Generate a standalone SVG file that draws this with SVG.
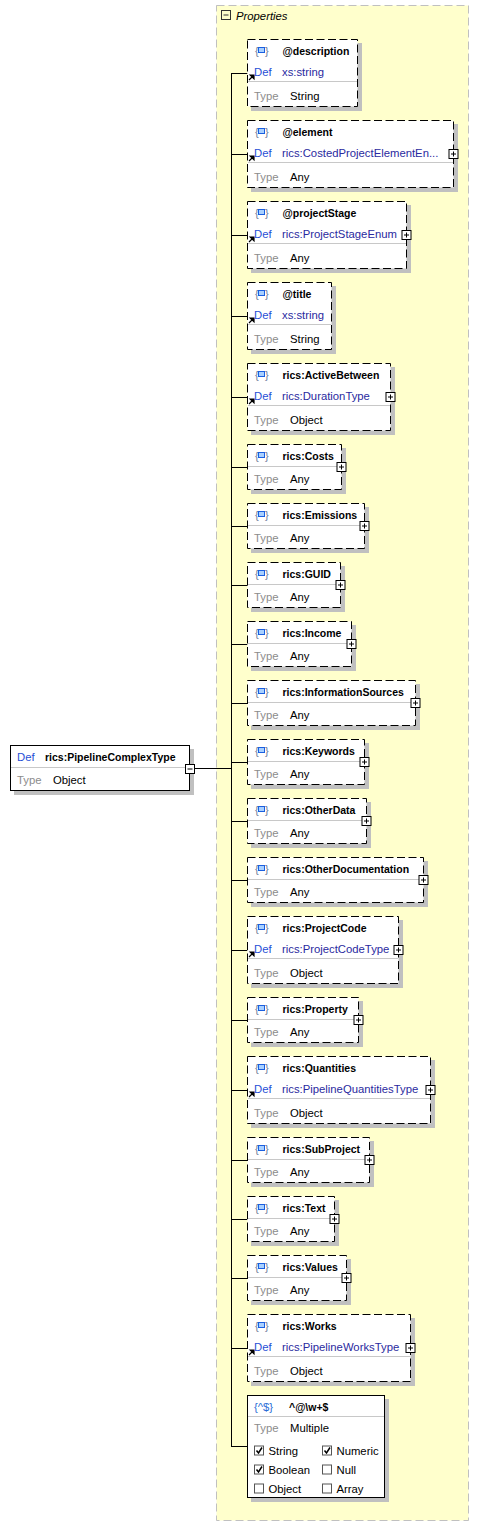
<svg xmlns="http://www.w3.org/2000/svg" width="479" height="1526" viewBox="0 0 479 1526">
<defs>
<style>
text{font-family:"Liberation Sans",Arial,sans-serif;font-size:11.3px;fill:#000}
.nm{font-weight:bold;font-size:10.5px}
.def{fill:#1f4fd6}
.dv{fill:#2a2aa0}
.tl{fill:#8c8c8c}
.br{fill:#6a7a9a;font-size:11px}
.sh{fill:#c0c0c0}
.box{fill:#fff;stroke:#000;stroke-width:1;stroke-dasharray:8 3.5}
.solid{fill:#fff;stroke:#000;stroke-width:1}
.sep{stroke:#c8c8c8;stroke-width:1}
.sq{fill:#a8d0ff;stroke:#1a5fe0;stroke-width:1}
.pb{fill:#fff;stroke:#000;stroke-width:1}
.pl{stroke:#000;stroke-width:1}
.cn{stroke:#000;stroke-width:1;fill:none}
.cb{fill:#fff;stroke:#555;stroke-width:1}
.ck{fill:none;stroke:#000;stroke-width:1.5}
</style>
<g id="icon">
<text class="br" x="8" y="16">{</text>
<text class="br" x="18" y="16">}</text>
<rect class="sq" x="11.5" y="8.5" width="6" height="5"/>
</g>
<path id="ref" d="M2,41 L5,38 M3.2,36 L7,36 L7,39.8 Z" stroke="#000" stroke-width="1.2" fill="#000"/>
</defs>

<rect x="216.5" y="5.5" width="252" height="1515" fill="#ffffcc" stroke="#c0c0c0" stroke-dasharray="8 4"/>
<g id="properties-header">
<rect x="221.5" y="10.5" width="9" height="9" fill="none" stroke="#333"/>
<line x1="223.5" y1="15" x2="228.5" y2="15" stroke="#333"/>
<text x="236" y="20" font-style="italic" fill="#3c3c50">Properties</text>
</g>

<g id="connectors">
<line class="cn" x1="194.5" y1="768.5" x2="231.5" y2="768.5"/>
<line class="cn" x1="231.5" y1="73" x2="231.5" y2="1446.5"/>
<line class="cn" x1="231" y1="73.5" x2="247.5" y2="73.5"/>
<line class="cn" x1="231" y1="154.5" x2="247.5" y2="154.5"/>
<line class="cn" x1="231" y1="235.5" x2="247.5" y2="235.5"/>
<line class="cn" x1="231" y1="316.5" x2="247.5" y2="316.5"/>
<line class="cn" x1="231" y1="397.5" x2="247.5" y2="397.5"/>
<line class="cn" x1="231" y1="467.5" x2="247.5" y2="467.5"/>
<line class="cn" x1="231" y1="526.5" x2="247.5" y2="526.5"/>
<line class="cn" x1="231" y1="585.5" x2="247.5" y2="585.5"/>
<line class="cn" x1="231" y1="644.5" x2="247.5" y2="644.5"/>
<line class="cn" x1="231" y1="703.5" x2="247.5" y2="703.5"/>
<line class="cn" x1="231" y1="762.5" x2="247.5" y2="762.5"/>
<line class="cn" x1="231" y1="821.5" x2="247.5" y2="821.5"/>
<line class="cn" x1="231" y1="880.5" x2="247.5" y2="880.5"/>
<line class="cn" x1="231" y1="950.5" x2="247.5" y2="950.5"/>
<line class="cn" x1="231" y1="1020.5" x2="247.5" y2="1020.5"/>
<line class="cn" x1="231" y1="1090.5" x2="247.5" y2="1090.5"/>
<line class="cn" x1="231" y1="1160.5" x2="247.5" y2="1160.5"/>
<line class="cn" x1="231" y1="1219.5" x2="247.5" y2="1219.5"/>
<line class="cn" x1="231" y1="1278.5" x2="247.5" y2="1278.5"/>
<line class="cn" x1="231" y1="1348.5" x2="247.5" y2="1348.5"/>
<line class="cn" x1="231" y1="1446.5" x2="247.5" y2="1446.5"/>
</g>

<g id="root">
<rect class="sh" x="14" y="749" width="180" height="46"/>
<rect class="solid" x="10.5" y="745.5" width="179" height="45"/>
<line class="sep" x1="11" y1="767.5" x2="189" y2="767.5"/>
<text class="def" x="17" y="761">Def</text>
<text class="nm" x="45" y="761">rics:PipelineComplexType</text>
<text class="tl" x="17" y="784">Type</text>
<text x="53" y="784">Object</text>
<rect class="pb" x="185.5" y="764.5" width="9" height="9"/>
<line class="pl" x1="187.5" y1="769" x2="192.5" y2="769"/>
</g>

<g id="n-description" transform="translate(247,39)">
<rect class="sh" x="4" y="4" width="111" height="68"/>
<rect class="box" x="0.5" y="0.5" width="110" height="67"/>
<use href="#icon"/><text class="nm" x="35.5" y="16">@description</text>
<use href="#ref"/><text class="def" x="7" y="37">Def</text><text class="dv" x="35" y="37">xs:string</text>
<line class="sep" x1="1" y1="42.5" x2="110" y2="42.5"/>
<text class="tl" x="7" y="60.5">Type</text><text x="43" y="60.5">String</text>
</g>

<g id="n-element" transform="translate(247,120)">
<rect class="sh" x="4" y="4" width="207" height="68"/>
<rect class="box" x="0.5" y="0.5" width="206" height="67"/>
<use href="#icon"/><text class="nm" x="35.5" y="16">@element</text>
<use href="#ref"/><text class="def" x="7" y="37">Def</text><text class="dv" x="35" y="37">rics:CostedProjectElementEn...</text>
<line class="sep" x1="1" y1="42.5" x2="206" y2="42.5"/>
<text class="tl" x="7" y="60.5">Type</text><text x="43" y="60.5">Any</text>
<rect class="pb" x="202" y="29.5" width="9" height="9"/><path class="pl" d="M204,34 H209 M206.5,31.5 V36.5"/>
</g>

<g id="n-projectStage" transform="translate(247,201)">
<rect class="sh" x="4" y="4" width="160" height="68"/>
<rect class="box" x="0.5" y="0.5" width="159" height="67"/>
<use href="#icon"/><text class="nm" x="35.5" y="16">@projectStage</text>
<use href="#ref"/><text class="def" x="7" y="37">Def</text><text class="dv" x="35" y="37">rics:ProjectStageEnum</text>
<line class="sep" x1="1" y1="42.5" x2="159" y2="42.5"/>
<text class="tl" x="7" y="60.5">Type</text><text x="43" y="60.5">Any</text>
<rect class="pb" x="155" y="29.5" width="9" height="9"/><path class="pl" d="M157,34 H162 M159.5,31.5 V36.5"/>
</g>

<g id="n-title" transform="translate(247,282)">
<rect class="sh" x="4" y="4" width="85" height="68"/>
<rect class="box" x="0.5" y="0.5" width="84" height="67"/>
<use href="#icon"/><text class="nm" x="35.5" y="16">@title</text>
<use href="#ref"/><text class="def" x="7" y="37">Def</text><text class="dv" x="35" y="37">xs:string</text>
<line class="sep" x1="1" y1="42.5" x2="84" y2="42.5"/>
<text class="tl" x="7" y="60.5">Type</text><text x="43" y="60.5">String</text>
</g>

<g id="n-ActiveBetween" transform="translate(247,363)">
<rect class="sh" x="4" y="4" width="144" height="68"/>
<rect class="box" x="0.5" y="0.5" width="143" height="67"/>
<use href="#icon"/><text class="nm" x="35.5" y="16">rics:ActiveBetween</text>
<use href="#ref"/><text class="def" x="7" y="37">Def</text><text class="dv" x="35" y="37">rics:DurationType</text>
<line class="sep" x1="1" y1="42.5" x2="143" y2="42.5"/>
<text class="tl" x="7" y="60.5">Type</text><text x="43" y="60.5">Object</text>
<rect class="pb" x="139" y="29.5" width="9" height="9"/><path class="pl" d="M141,34 H146 M143.5,31.5 V36.5"/>
</g>

<g id="n-Costs" transform="translate(247,444)">
<rect class="sh" x="4" y="4" width="95" height="46"/>
<rect class="box" x="0.5" y="0.5" width="94" height="45"/>
<use href="#icon"/><text class="nm" x="35.5" y="16">rics:Costs</text>
<line class="sep" x1="1" y1="22.5" x2="94" y2="22.5"/>
<text class="tl" x="7" y="38.5">Type</text><text x="43" y="38.5">Any</text>
<rect class="pb" x="90" y="18.5" width="9" height="9"/><path class="pl" d="M92,23 H97 M94.5,20.5 V25.5"/>
</g>

<g id="n-Emissions" transform="translate(247,503)">
<rect class="sh" x="4" y="4" width="118" height="46"/>
<rect class="box" x="0.5" y="0.5" width="117" height="45"/>
<use href="#icon"/><text class="nm" x="35.5" y="16">rics:Emissions</text>
<line class="sep" x1="1" y1="22.5" x2="117" y2="22.5"/>
<text class="tl" x="7" y="38.5">Type</text><text x="43" y="38.5">Any</text>
<rect class="pb" x="113" y="18.5" width="9" height="9"/><path class="pl" d="M115,23 H120 M117.5,20.5 V25.5"/>
</g>

<g id="n-GUID" transform="translate(247,562)">
<rect class="sh" x="4" y="4" width="94" height="46"/>
<rect class="box" x="0.5" y="0.5" width="93" height="45"/>
<use href="#icon"/><text class="nm" x="35.5" y="16">rics:GUID</text>
<line class="sep" x1="1" y1="22.5" x2="93" y2="22.5"/>
<text class="tl" x="7" y="38.5">Type</text><text x="43" y="38.5">Any</text>
<rect class="pb" x="89" y="18.5" width="9" height="9"/><path class="pl" d="M91,23 H96 M93.5,20.5 V25.5"/>
</g>

<g id="n-Income" transform="translate(247,621)">
<rect class="sh" x="4" y="4" width="105" height="46"/>
<rect class="box" x="0.5" y="0.5" width="104" height="45"/>
<use href="#icon"/><text class="nm" x="35.5" y="16">rics:Income</text>
<line class="sep" x1="1" y1="22.5" x2="104" y2="22.5"/>
<text class="tl" x="7" y="38.5">Type</text><text x="43" y="38.5">Any</text>
<rect class="pb" x="100" y="18.5" width="9" height="9"/><path class="pl" d="M102,23 H107 M104.5,20.5 V25.5"/>
</g>

<g id="n-InformationSources" transform="translate(247,680)">
<rect class="sh" x="4" y="4" width="169" height="46"/>
<rect class="box" x="0.5" y="0.5" width="168" height="45"/>
<use href="#icon"/><text class="nm" x="35.5" y="16">rics:InformationSources</text>
<line class="sep" x1="1" y1="22.5" x2="168" y2="22.5"/>
<text class="tl" x="7" y="38.5">Type</text><text x="43" y="38.5">Any</text>
<rect class="pb" x="164" y="18.5" width="9" height="9"/><path class="pl" d="M166,23 H171 M168.5,20.5 V25.5"/>
</g>

<g id="n-Keywords" transform="translate(247,739)">
<rect class="sh" x="4" y="4" width="118" height="46"/>
<rect class="box" x="0.5" y="0.5" width="117" height="45"/>
<use href="#icon"/><text class="nm" x="35.5" y="16">rics:Keywords</text>
<line class="sep" x1="1" y1="22.5" x2="117" y2="22.5"/>
<text class="tl" x="7" y="38.5">Type</text><text x="43" y="38.5">Any</text>
<rect class="pb" x="113" y="18.5" width="9" height="9"/><path class="pl" d="M115,23 H120 M117.5,20.5 V25.5"/>
</g>

<g id="n-OtherData" transform="translate(247,798)">
<rect class="sh" x="4" y="4" width="120" height="46"/>
<rect class="box" x="0.5" y="0.5" width="119" height="45"/>
<use href="#icon"/><text class="nm" x="35.5" y="16">rics:OtherData</text>
<line class="sep" x1="1" y1="22.5" x2="119" y2="22.5"/>
<text class="tl" x="7" y="38.5">Type</text><text x="43" y="38.5">Any</text>
<rect class="pb" x="115" y="18.5" width="9" height="9"/><path class="pl" d="M117,23 H122 M119.5,20.5 V25.5"/>
</g>

<g id="n-OtherDocumentation" transform="translate(247,857)">
<rect class="sh" x="4" y="4" width="177" height="46"/>
<rect class="box" x="0.5" y="0.5" width="176" height="45"/>
<use href="#icon"/><text class="nm" x="35.5" y="16">rics:OtherDocumentation</text>
<line class="sep" x1="1" y1="22.5" x2="176" y2="22.5"/>
<text class="tl" x="7" y="38.5">Type</text><text x="43" y="38.5">Any</text>
<rect class="pb" x="172" y="18.5" width="9" height="9"/><path class="pl" d="M174,23 H179 M176.5,20.5 V25.5"/>
</g>

<g id="n-ProjectCode" transform="translate(247,916)">
<rect class="sh" x="4" y="4" width="152" height="68"/>
<rect class="box" x="0.5" y="0.5" width="151" height="67"/>
<use href="#icon"/><text class="nm" x="35.5" y="16">rics:ProjectCode</text>
<use href="#ref"/><text class="def" x="7" y="37">Def</text><text class="dv" x="35" y="37">rics:ProjectCodeType</text>
<line class="sep" x1="1" y1="42.5" x2="151" y2="42.5"/>
<text class="tl" x="7" y="60.5">Type</text><text x="43" y="60.5">Object</text>
<rect class="pb" x="147" y="29.5" width="9" height="9"/><path class="pl" d="M149,34 H154 M151.5,31.5 V36.5"/>
</g>

<g id="n-Property" transform="translate(247,997)">
<rect class="sh" x="4" y="4" width="112" height="46"/>
<rect class="box" x="0.5" y="0.5" width="111" height="45"/>
<use href="#icon"/><text class="nm" x="35.5" y="16">rics:Property</text>
<line class="sep" x1="1" y1="22.5" x2="111" y2="22.5"/>
<text class="tl" x="7" y="38.5">Type</text><text x="43" y="38.5">Any</text>
<rect class="pb" x="107" y="18.5" width="9" height="9"/><path class="pl" d="M109,23 H114 M111.5,20.5 V25.5"/>
</g>

<g id="n-Quantities" transform="translate(247,1056)">
<rect class="sh" x="4" y="4" width="184" height="68"/>
<rect class="box" x="0.5" y="0.5" width="183" height="67"/>
<use href="#icon"/><text class="nm" x="35.5" y="16">rics:Quantities</text>
<use href="#ref"/><text class="def" x="7" y="37">Def</text><text class="dv" x="35" y="37">rics:PipelineQuantitiesType</text>
<line class="sep" x1="1" y1="42.5" x2="183" y2="42.5"/>
<text class="tl" x="7" y="60.5">Type</text><text x="43" y="60.5">Object</text>
<rect class="pb" x="179" y="29.5" width="9" height="9"/><path class="pl" d="M181,34 H186 M183.5,31.5 V36.5"/>
</g>

<g id="n-SubProject" transform="translate(247,1137)">
<rect class="sh" x="4" y="4" width="123" height="46"/>
<rect class="box" x="0.5" y="0.5" width="122" height="45"/>
<use href="#icon"/><text class="nm" x="35.5" y="16">rics:SubProject</text>
<line class="sep" x1="1" y1="22.5" x2="122" y2="22.5"/>
<text class="tl" x="7" y="38.5">Type</text><text x="43" y="38.5">Any</text>
<rect class="pb" x="118" y="18.5" width="9" height="9"/><path class="pl" d="M120,23 H125 M122.5,20.5 V25.5"/>
</g>

<g id="n-Text" transform="translate(247,1196)">
<rect class="sh" x="4" y="4" width="88" height="46"/>
<rect class="box" x="0.5" y="0.5" width="87" height="45"/>
<use href="#icon"/><text class="nm" x="35.5" y="16">rics:Text</text>
<line class="sep" x1="1" y1="22.5" x2="87" y2="22.5"/>
<text class="tl" x="7" y="38.5">Type</text><text x="43" y="38.5">Any</text>
<rect class="pb" x="83" y="18.5" width="9" height="9"/><path class="pl" d="M85,23 H90 M87.5,20.5 V25.5"/>
</g>

<g id="n-Values" transform="translate(247,1255)">
<rect class="sh" x="4" y="4" width="100" height="46"/>
<rect class="box" x="0.5" y="0.5" width="99" height="45"/>
<use href="#icon"/><text class="nm" x="35.5" y="16">rics:Values</text>
<line class="sep" x1="1" y1="22.5" x2="99" y2="22.5"/>
<text class="tl" x="7" y="38.5">Type</text><text x="43" y="38.5">Any</text>
<rect class="pb" x="95" y="18.5" width="9" height="9"/><path class="pl" d="M97,23 H102 M99.5,20.5 V25.5"/>
</g>

<g id="n-Works" transform="translate(247,1314)">
<rect class="sh" x="4" y="4" width="164" height="68"/>
<rect class="box" x="0.5" y="0.5" width="163" height="67"/>
<use href="#icon"/><text class="nm" x="35.5" y="16">rics:Works</text>
<use href="#ref"/><text class="def" x="7" y="37">Def</text><text class="dv" x="35" y="37">rics:PipelineWorksType</text>
<line class="sep" x1="1" y1="42.5" x2="163" y2="42.5"/>
<text class="tl" x="7" y="60.5">Type</text><text x="43" y="60.5">Object</text>
<rect class="pb" x="159" y="29.5" width="9" height="9"/><path class="pl" d="M161,34 H166 M163.5,31.5 V36.5"/>
</g>

<g id="n-pattern" transform="translate(247,1395)">
<rect class="sh" x="4" y="4" width="138" height="103"/>
<rect class="solid" x="0.5" y="0.5" width="137" height="102"/>
<text x="7" y="15.5" style="fill:#2a6cd6">{^$}</text>
<text class="nm" x="42" y="15.5">^@\w+$</text>
<line class="sep" x1="1" y1="21.5" x2="137" y2="21.5"/>
<text class="tl" x="7" y="37">Type</text><text x="43" y="37">Multiple</text>
<rect class="cb" x="7.5" y="51" width="9" height="9"/><path class="ck" d="M9.5,55.5 L11.5,58 L15,52.5"/>
<text x="21.5" y="59.5">String</text>
<rect class="cb" x="75.5" y="51" width="9" height="9"/><path class="ck" d="M77.5,55.5 L79.5,58 L83,52.5"/>
<text x="89.5" y="59.5">Numeric</text>
<rect class="cb" x="7.5" y="70" width="9" height="9"/><path class="ck" d="M9.5,74.5 L11.5,77 L15,71.5"/>
<text x="21.5" y="78.5">Boolean</text>
<rect class="cb" x="75.5" y="70" width="9" height="9"/>
<text x="89.5" y="78.5">Null</text>
<rect class="cb" x="7.5" y="89" width="9" height="9"/>
<text x="21.5" y="97.5">Object</text>
<rect class="cb" x="75.5" y="89" width="9" height="9"/>
<text x="89.5" y="97.5">Array</text>
</g>
</svg>
